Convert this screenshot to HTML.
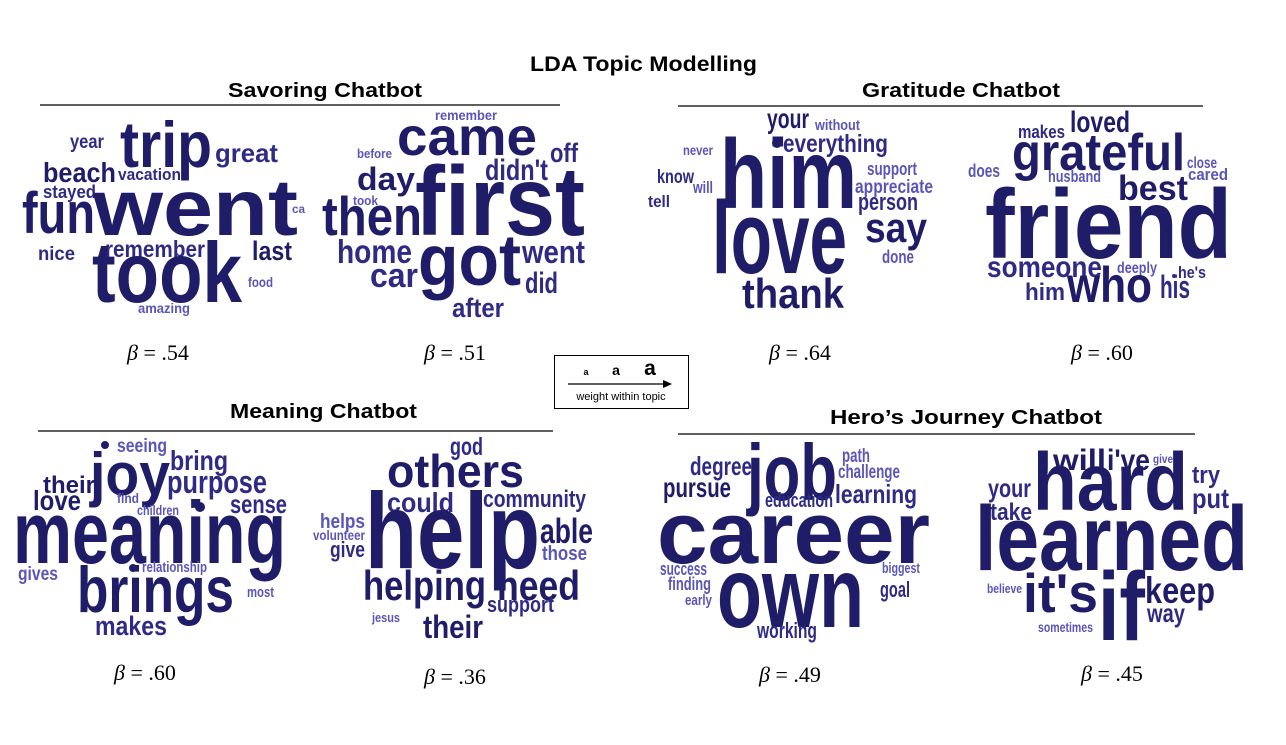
<!DOCTYPE html>
<html><head><meta charset="utf-8"><style>
html,body{margin:0;padding:0;background:#fff;}
svg{display:block;}
.w{font-family:"Liberation Sans Narrow","Liberation Sans",sans-serif;font-weight:bold;}
.d{fill:#1f1c68;}
.m{fill:#2f2b85;}
.l{fill:#5a55b8;}
.h{font-family:"Liberation Sans",sans-serif;font-weight:bold;fill:#000;}
.b{font-family:"Liberation Serif",serif;font-size:22px;fill:#000;}
</style></head><body>
<svg width="1286" height="745" viewBox="0 0 1286 745" xmlns="http://www.w3.org/2000/svg">
<g class="h">
<text x="530" y="71" font-size="21" textLength="227" lengthAdjust="spacingAndGlyphs">LDA Topic Modelling</text>
<text x="228" y="97" font-size="20" textLength="194" lengthAdjust="spacingAndGlyphs">Savoring Chatbot</text>
<text x="862" y="97" font-size="20" textLength="198" lengthAdjust="spacingAndGlyphs">Gratitude Chatbot</text>
<text x="230" y="418" font-size="20" textLength="187" lengthAdjust="spacingAndGlyphs">Meaning Chatbot</text>
<text x="830" y="424" font-size="20" textLength="272" lengthAdjust="spacingAndGlyphs">Hero’s Journey Chatbot</text>
</g>
<g stroke="#000" stroke-width="1.3">
<line x1="40" y1="105" x2="560" y2="105"/>
<line x1="678" y1="106" x2="1203" y2="106"/>
<line x1="38" y1="431" x2="553" y2="431"/>
<line x1="678" y1="434" x2="1195" y2="434"/>
</g>
<!-- legend -->
<rect x="554.5" y="355.5" width="134" height="53" fill="#fff" stroke="#000" stroke-width="1"/>
<g font-family="Liberation Sans,sans-serif" font-weight="bold" fill="#000" text-anchor="middle">
<text x="586" y="375" font-size="9">a</text>
<text x="616" y="375" font-size="14">a</text>
<text x="650" y="375" font-size="21">a</text>
</g>
<line x1="568" y1="384" x2="664" y2="384" stroke="#000" stroke-width="1.2"/>
<polygon points="672,384 663,380 663,388" fill="#000"/>
<text x="621" y="400" font-family="Liberation Sans,sans-serif" font-size="11" text-anchor="middle" fill="#000">weight within topic</text>
<!-- betas -->
<g class="b" text-anchor="middle">
<text x="158" y="360"><tspan font-style="italic">β</tspan> = .54</text>
<text x="455" y="360"><tspan font-style="italic">β</tspan> = .51</text>
<text x="800" y="360"><tspan font-style="italic">β</tspan> = .64</text>
<text x="1102" y="360"><tspan font-style="italic">β</tspan> = .60</text>
<text x="145" y="680"><tspan font-style="italic">β</tspan> = .60</text>
<text x="455" y="684"><tspan font-style="italic">β</tspan> = .36</text>
<text x="790" y="682"><tspan font-style="italic">β</tspan> = .49</text>
<text x="1112" y="681"><tspan font-style="italic">β</tspan> = .45</text>
</g>
<g class="w">
<!-- cloud 1 -->
<text class="m" x="70" y="148" font-size="19" textLength="34" lengthAdjust="spacingAndGlyphs">year</text>
<text class="d" x="120" y="167" font-size="65" textLength="92" lengthAdjust="spacingAndGlyphs">trip</text>
<text class="m" x="215" y="162" font-size="26" textLength="63" lengthAdjust="spacingAndGlyphs">great</text>
<text class="d" x="43" y="182" font-size="28" textLength="73" lengthAdjust="spacingAndGlyphs">beach</text>
<text class="m" x="118" y="180" font-size="17" textLength="63" lengthAdjust="spacingAndGlyphs">vacation</text>
<text class="m" x="43" y="198" font-size="18" textLength="53" lengthAdjust="spacingAndGlyphs">stayed</text>
<text class="d" x="22" y="233" font-size="58" textLength="73" lengthAdjust="spacingAndGlyphs">fun</text>
<text class="d" x="93" y="235" font-size="80" textLength="205" lengthAdjust="spacingAndGlyphs">went</text>
<text class="l" x="292" y="213" font-size="12" textLength="13" lengthAdjust="spacingAndGlyphs">ca</text>
<text class="m" x="38" y="260" font-size="19" textLength="37" lengthAdjust="spacingAndGlyphs">nice</text>
<text class="m" x="105" y="257" font-size="23" textLength="100" lengthAdjust="spacingAndGlyphs">remember</text>
<text class="d" x="252" y="260" font-size="27" textLength="40" lengthAdjust="spacingAndGlyphs">last</text>
<text class="d" x="92" y="302" font-size="85" textLength="150" lengthAdjust="spacingAndGlyphs">took</text>
<text class="l" x="248" y="287" font-size="14" textLength="25" lengthAdjust="spacingAndGlyphs">food</text>
<text class="l" x="138" y="313" font-size="14" textLength="52" lengthAdjust="spacingAndGlyphs">amazing</text>
<!-- cloud 2 -->
<text class="l" x="435" y="120" font-size="14" textLength="62" lengthAdjust="spacingAndGlyphs">remember</text>
<text class="d" x="397" y="155" font-size="54" textLength="140" lengthAdjust="spacingAndGlyphs">came</text>
<text class="l" x="357" y="158" font-size="13" textLength="35" lengthAdjust="spacingAndGlyphs">before</text>
<text class="m" x="550" y="162" font-size="27" textLength="28" lengthAdjust="spacingAndGlyphs">off</text>
<text class="m" x="485" y="180" font-size="30" textLength="63" lengthAdjust="spacingAndGlyphs">didn't</text>
<text class="d" x="357" y="190" font-size="32" textLength="58" lengthAdjust="spacingAndGlyphs">day</text>
<text class="d" x="415" y="235" font-size="98" textLength="170" lengthAdjust="spacingAndGlyphs">first</text>
<text class="l" x="353" y="205" font-size="13" textLength="25" lengthAdjust="spacingAndGlyphs">took</text>
<text class="d" x="322" y="235" font-size="55" textLength="100" lengthAdjust="spacingAndGlyphs">then</text>
<text class="m" x="337" y="263" font-size="33" textLength="75" lengthAdjust="spacingAndGlyphs">home</text>
<text class="m" x="522" y="263" font-size="32" textLength="63" lengthAdjust="spacingAndGlyphs">went</text>
<text class="d" x="418" y="285" font-size="72" textLength="103" lengthAdjust="spacingAndGlyphs">got</text>
<text class="m" x="370" y="287" font-size="34" textLength="48" lengthAdjust="spacingAndGlyphs">car</text>
<text class="m" x="525" y="293" font-size="30" textLength="33" lengthAdjust="spacingAndGlyphs">did</text>
<text class="m" x="452" y="317" font-size="27" textLength="52" lengthAdjust="spacingAndGlyphs">after</text>
<!-- cloud 3 -->
<text class="d" x="767" y="128" font-size="28" textLength="42" lengthAdjust="spacingAndGlyphs">your</text>
<text class="l" x="815" y="130" font-size="15" textLength="45" lengthAdjust="spacingAndGlyphs">without</text>
<circle cx="777" cy="143" r="5" fill="#1f1c68"/>
<text class="m" x="783" y="152" font-size="25" textLength="105" lengthAdjust="spacingAndGlyphs">everything</text>
<text class="l" x="683" y="155" font-size="14" textLength="30" lengthAdjust="spacingAndGlyphs">never</text>
<text class="d" x="720" y="208" font-size="98" textLength="137" lengthAdjust="spacingAndGlyphs">him</text>
<text class="m" x="657" y="183" font-size="19" textLength="37" lengthAdjust="spacingAndGlyphs">know</text>
<text class="l" x="693" y="193" font-size="17" textLength="20" lengthAdjust="spacingAndGlyphs">will</text>
<text class="m" x="648" y="207" font-size="17" textLength="22" lengthAdjust="spacingAndGlyphs">tell</text>
<text class="l" x="867" y="175" font-size="18" textLength="50" lengthAdjust="spacingAndGlyphs">support</text>
<text class="l" x="855" y="193" font-size="19" textLength="78" lengthAdjust="spacingAndGlyphs">appreciate</text>
<text class="m" x="858" y="210" font-size="24" textLength="60" lengthAdjust="spacingAndGlyphs">person</text>
<text class="d" x="712" y="273" font-size="103" textLength="135" lengthAdjust="spacingAndGlyphs">love</text>
<text class="d" x="865" y="242" font-size="42" textLength="62" lengthAdjust="spacingAndGlyphs">say</text>
<text class="l" x="882" y="263" font-size="18" textLength="32" lengthAdjust="spacingAndGlyphs">done</text>
<text class="d" x="742" y="308" font-size="42" textLength="102" lengthAdjust="spacingAndGlyphs">thank</text>
<!-- cloud 4 -->
<text class="d" x="1070" y="132" font-size="30" textLength="60" lengthAdjust="spacingAndGlyphs">loved</text>
<text class="m" x="1018" y="138" font-size="18" textLength="47" lengthAdjust="spacingAndGlyphs">makes</text>
<text class="d" x="1012" y="170" font-size="52" textLength="173" lengthAdjust="spacingAndGlyphs">grateful</text>
<text class="l" x="968" y="177" font-size="18" textLength="32" lengthAdjust="spacingAndGlyphs">does</text>
<text class="l" x="1048" y="182" font-size="17" textLength="53" lengthAdjust="spacingAndGlyphs">husband</text>
<text class="l" x="1187" y="168" font-size="16" textLength="30" lengthAdjust="spacingAndGlyphs">close</text>
<text class="l" x="1188" y="180" font-size="17" textLength="40" lengthAdjust="spacingAndGlyphs">cared</text>
<text class="d" x="1118" y="200" font-size="35" textLength="70" lengthAdjust="spacingAndGlyphs">best</text>
<text class="d" x="985" y="258" font-size="98" textLength="247" lengthAdjust="spacingAndGlyphs">friend</text>
<text class="m" x="987" y="277" font-size="30" textLength="115" lengthAdjust="spacingAndGlyphs">someone</text>
<text class="l" x="1117" y="273" font-size="16" textLength="40" lengthAdjust="spacingAndGlyphs">deeply</text>
<circle cx="1174" cy="276" r="2" fill="#2f2b85"/>
<text class="m" x="1178" y="278" font-size="17" textLength="28" lengthAdjust="spacingAndGlyphs">he's</text>
<text class="m" x="1025" y="300" font-size="24" textLength="40" lengthAdjust="spacingAndGlyphs">him</text>
<text class="d" x="1067" y="302" font-size="50" textLength="85" lengthAdjust="spacingAndGlyphs">who</text>
<text class="m" x="1160" y="298" font-size="32" textLength="30" lengthAdjust="spacingAndGlyphs">his</text>
<!-- cloud 5 -->
<circle cx="105" cy="445" r="4" fill="#1f1c68"/>
<text class="l" x="117" y="452" font-size="19" textLength="50" lengthAdjust="spacingAndGlyphs">seeing</text>
<text class="d" x="90" y="495" font-size="60" textLength="80" lengthAdjust="spacingAndGlyphs">joy</text>
<text class="m" x="170" y="470" font-size="28" textLength="58" lengthAdjust="spacingAndGlyphs">bring</text>
<text class="d" x="43" y="493" font-size="24" textLength="52" lengthAdjust="spacingAndGlyphs">their</text>
<text class="m" x="167" y="493" font-size="32" textLength="100" lengthAdjust="spacingAndGlyphs">purpose</text>
<text class="d" x="33" y="510" font-size="28" textLength="48" lengthAdjust="spacingAndGlyphs">love</text>
<text class="l" x="117" y="503" font-size="14" textLength="22" lengthAdjust="spacingAndGlyphs">find</text>
<text class="l" x="137" y="515" font-size="14" textLength="42" lengthAdjust="spacingAndGlyphs">children</text>
<circle cx="200" cy="507" r="5" fill="#1f1c68"/>
<text class="m" x="230" y="513" font-size="26" textLength="57" lengthAdjust="spacingAndGlyphs">sense</text>
<text class="d" x="13" y="563" font-size="88" textLength="273" lengthAdjust="spacingAndGlyphs">meaning</text>
<text class="l" x="18" y="580" font-size="19" textLength="40" lengthAdjust="spacingAndGlyphs">gives</text>
<circle cx="133" cy="568" r="4" fill="#1f1c68"/>
<text class="l" x="142" y="572" font-size="15" textLength="65" lengthAdjust="spacingAndGlyphs">relationship</text>
<text class="d" x="77" y="612" font-size="65" textLength="157" lengthAdjust="spacingAndGlyphs">brings</text>
<text class="l" x="247" y="597" font-size="15" textLength="27" lengthAdjust="spacingAndGlyphs">most</text>
<text class="m" x="95" y="635" font-size="27" textLength="72" lengthAdjust="spacingAndGlyphs">makes</text>
<!-- cloud 6 -->
<text class="m" x="450" y="455" font-size="25" textLength="33" lengthAdjust="spacingAndGlyphs">god</text>
<text class="d" x="387" y="487" font-size="46" textLength="137" lengthAdjust="spacingAndGlyphs">others</text>
<text class="m" x="387" y="512" font-size="28" textLength="67" lengthAdjust="spacingAndGlyphs">could</text>
<text class="m" x="483" y="507" font-size="24" textLength="103" lengthAdjust="spacingAndGlyphs">community</text>
<text class="d" x="365" y="568" font-size="108" textLength="175" lengthAdjust="spacingAndGlyphs">help</text>
<text class="l" x="320" y="528" font-size="20" textLength="45" lengthAdjust="spacingAndGlyphs">helps</text>
<text class="l" x="313" y="540" font-size="14" textLength="52" lengthAdjust="spacingAndGlyphs">volunteer</text>
<text class="m" x="330" y="557" font-size="22" textLength="35" lengthAdjust="spacingAndGlyphs">give</text>
<text class="d" x="540" y="543" font-size="35" textLength="53" lengthAdjust="spacingAndGlyphs">able</text>
<text class="l" x="542" y="560" font-size="20" textLength="45" lengthAdjust="spacingAndGlyphs">those</text>
<text class="d" x="363" y="600" font-size="42" textLength="123" lengthAdjust="spacingAndGlyphs">helping</text>
<text class="d" x="497" y="600" font-size="42" textLength="83" lengthAdjust="spacingAndGlyphs">need</text>
<text class="m" x="487" y="612" font-size="22" textLength="67" lengthAdjust="spacingAndGlyphs">support</text>
<text class="l" x="372" y="622" font-size="13" textLength="28" lengthAdjust="spacingAndGlyphs">jesus</text>
<text class="d" x="423" y="638" font-size="32" textLength="60" lengthAdjust="spacingAndGlyphs">their</text>
<!-- cloud 7 -->
<text class="l" x="842" y="462" font-size="19" textLength="28" lengthAdjust="spacingAndGlyphs">path</text>
<text class="d" x="747" y="500" font-size="80" textLength="90" lengthAdjust="spacingAndGlyphs">job</text>
<text class="m" x="690" y="475" font-size="26" textLength="62" lengthAdjust="spacingAndGlyphs">degree</text>
<text class="l" x="838" y="478" font-size="19" textLength="62" lengthAdjust="spacingAndGlyphs">challenge</text>
<text class="d" x="663" y="497" font-size="28" textLength="68" lengthAdjust="spacingAndGlyphs">pursue</text>
<text class="m" x="765" y="507" font-size="20" textLength="68" lengthAdjust="spacingAndGlyphs">education</text>
<text class="m" x="835" y="503" font-size="26" textLength="82" lengthAdjust="spacingAndGlyphs">learning</text>
<text class="d" x="657" y="563" font-size="88" textLength="273" lengthAdjust="spacingAndGlyphs">career</text>
<text class="l" x="660" y="575" font-size="18" textLength="47" lengthAdjust="spacingAndGlyphs">success</text>
<text class="l" x="882" y="573" font-size="15" textLength="38" lengthAdjust="spacingAndGlyphs">biggest</text>
<text class="l" x="668" y="590" font-size="18" textLength="43" lengthAdjust="spacingAndGlyphs">finding</text>
<text class="d" x="717" y="627" font-size="100" textLength="147" lengthAdjust="spacingAndGlyphs">own</text>
<text class="m" x="880" y="597" font-size="22" textLength="30" lengthAdjust="spacingAndGlyphs">goal</text>
<text class="l" x="685" y="605" font-size="15" textLength="27" lengthAdjust="spacingAndGlyphs">early</text>
<text class="m" x="757" y="638" font-size="22" textLength="60" lengthAdjust="spacingAndGlyphs">working</text>
<!-- cloud 8 -->
<text class="d" x="1053" y="470" font-size="30" textLength="53" lengthAdjust="spacingAndGlyphs">will</text>
<text class="d" x="1107" y="470" font-size="30" textLength="43" lengthAdjust="spacingAndGlyphs">i've</text>
<text class="l" x="1153" y="463" font-size="12" textLength="20" lengthAdjust="spacingAndGlyphs">give</text>
<text class="m" x="1192" y="483" font-size="24" textLength="28" lengthAdjust="spacingAndGlyphs">try</text>
<text class="d" x="1033" y="510" font-size="82" textLength="155" lengthAdjust="spacingAndGlyphs">hard</text>
<text class="m" x="988" y="497" font-size="26" textLength="43" lengthAdjust="spacingAndGlyphs">your</text>
<text class="m" x="1192" y="508" font-size="28" textLength="37" lengthAdjust="spacingAndGlyphs">put</text>
<text class="m" x="990" y="520" font-size="24" textLength="42" lengthAdjust="spacingAndGlyphs">take</text>
<text class="d" x="975" y="570" font-size="92" textLength="273" lengthAdjust="spacingAndGlyphs">learned</text>
<text class="l" x="987" y="593" font-size="13" textLength="35" lengthAdjust="spacingAndGlyphs">believe</text>
<text class="d" x="1023" y="612" font-size="55" textLength="75" lengthAdjust="spacingAndGlyphs">it's</text>
<text class="d" x="1098" y="640" font-size="97" textLength="47" lengthAdjust="spacingAndGlyphs">if</text>
<text class="d" x="1145" y="603" font-size="37" textLength="70" lengthAdjust="spacingAndGlyphs">keep</text>
<text class="m" x="1147" y="622" font-size="26" textLength="38" lengthAdjust="spacingAndGlyphs">way</text>
<text class="l" x="1038" y="632" font-size="14" textLength="55" lengthAdjust="spacingAndGlyphs">sometimes</text>
</g>
</svg>
</body></html>
